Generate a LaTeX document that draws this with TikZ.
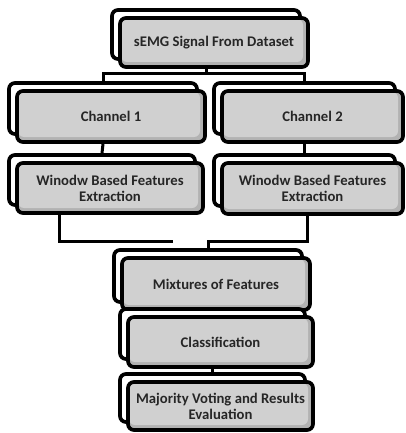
\documentclass[tikz,border=0pt]{standalone}
\usepackage{fontspec}
\setmainfont{Carlito}
\definecolor{boxgray}{HTML}{D0D0D0}
\definecolor{bevel}{HTML}{B2B2B2}
\definecolor{txt}{HTML}{262626}
\tikzset{
  backbox/.style={draw=black, line width=3.7pt, rounded corners=6pt, fill=white, inner sep=0pt},
  frontbox/.style={draw=black, line width=3.7pt, rounded corners=6pt, fill=bevel, inner sep=0pt,
    text=txt, font=\fontsize{14.7}{16}\selectfont\bfseries, align=center,
    path picture={\fill[boxgray] ([xshift=1pt,yshift=-1pt]path picture bounding box.north west) rectangle ([xshift=-5pt,yshift=5pt]path picture bounding box.south east);}},
  link/.style={draw=black, line width=3pt}
}
\newcommand\stackbox[6]{%
  \node[backbox, minimum width={#4pt-#2pt}, minimum height={#5pt-#3pt}] (#1b) at ({(#2+#4)/2-8},{(#3+#5)/2-8}) {};
  \node[frontbox, minimum width={#4pt-#2pt}, minimum height={#5pt-#3pt}] (#1) at ({(#2+#4)/2},{(#3+#5)/2}) {#6};
}
\begin{document}
\begin{tikzpicture}[x=1pt,y=-1pt]
\useasboundingbox (0,0) rectangle (406,433);
\stackbox{semg}{120}{18}{308}{67}{sEMG Signal From Dataset}
\stackbox{chA}{17}{91}{205}{142}{Channel 1}
\stackbox{chB}{222}{91}{403}{142}{Channel 2}
\stackbox{winA}{17}{163}{203}{213}{Winodw Based Features\\Extraction}
\stackbox{winB}{222}{163}{403}{214}{Winodw Based Features\\Extraction}
\stackbox{mix}{122}{258}{310}{310}{Mixtures of Features}
\stackbox{cls}{128}{317}{313}{367}{Classification}
\stackbox{maj}{128}{382}{313}{430}{Majority Voting and Results\\Evaluation}
% connectors
\coordinate (topbar) at (0,74);
\coordinate (bar) at (0,241);
\coordinate (leftx) at (59,0);
\coordinate (rightx) at (307,0);
\coordinate (leftend) at (173,241);
\draw[link] (semgb.south |- semg.south) -- (semgb.south |- topbar);
\draw[link] (chAb.north) -- (chAb.north |- topbar) -- (chBb.north |- topbar) -- (chBb.north);
\draw[link] (chAb.south |- chA.south) -- (winAb.north);
\draw[link] (chBb.south |- chB.south) -- (winBb.north);
\draw[link] (leftx |- winA.south) -- (leftx |- bar) -- (leftend);
\draw[link] (rightx |- winB.south) -- (rightx |- bar) -- (mixb.north |- bar) -- (mixb.north);
\draw[link] (clsb.south |- cls.south) -- (majb.north);
\end{tikzpicture}
\end{document}
